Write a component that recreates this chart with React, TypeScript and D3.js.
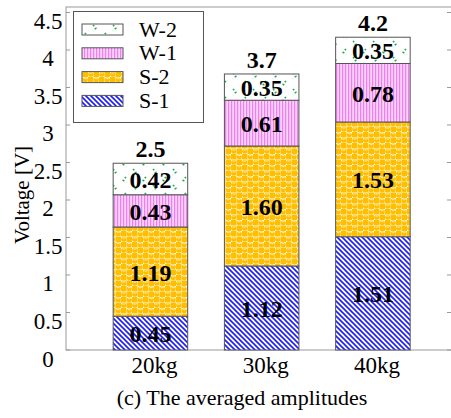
import * as d3 from "d3";
import { useEffect, useRef } from "react";

// values
const categories = ["20kg", "30kg", "40kg"];
const s1Values = [0.45, 1.12, 1.51];
const s2Values = [1.19, 1.6, 1.53];
const w1Values = [0.43, 0.61, 0.78];
const w2Values = [0.42, 0.35, 0.35];
const totalLabels = ["2.5", "3.7", "4.2"];
const seriesNames = ["S-1", "S-2", "W-1", "W-2"];
const yTicks = [0, 0.5, 1, 1.5, 2, 2.5, 3, 3.5, 4, 4.5];

const FONT = "'Liberation Serif', 'Times New Roman', serif";

export default function App() {
  const svgRef = useRef<SVGSVGElement | null>(null);

  useEffect(() => {
    if (!svgRef.current) return;
    const svg = d3.select(svgRef.current);
    svg.selectAll("*").remove();

    const width = 451;
    const height = 418;
    const left = 66;
    const right = 452;
    const top = 7;
    const bottom = 350;

    svg.attr("width", width).attr("height", height);

    // patterns
    const defs = svg.append("defs");

    const p1 = defs.append("pattern").attr("id", "pS1").attr("patternUnits", "userSpaceOnUse")
      .attr("width", 5).attr("height", 5);
    p1.append("rect").attr("width", 5).attr("height", 5).attr("fill", "#fff");
    p1.append("path").attr("d", "M-1,-1 L6,6 M-1,4 L1,6 M4,-1 L6,1")
      .attr("stroke", "#1c1cff").attr("stroke-width", 1.6);

    const p2 = defs.append("pattern").attr("id", "pS2").attr("patternUnits", "userSpaceOnUse")
      .attr("width", 11).attr("height", 11);
    p2.append("rect").attr("width", 11).attr("height", 11).attr("fill", "#ffbf00");
    p2.append("rect").attr("x", 5.5).attr("y", 0).attr("width", 5.5).attr("height", 5.5).attr("fill", "#fff");
    p2.append("rect").attr("x", 0).attr("y", 5.5).attr("width", 5.5).attr("height", 5.5).attr("fill", "#fff");
    [[8.25, 2.75], [2.75, 8.25]].forEach(([cx, cy]) => {
      p2.append("circle").attr("cx", cx).attr("cy", cy).attr("r", 2.6).attr("fill", "#ffbf00");
      p2.append("ellipse").attr("cx", cx).attr("cy", cy - 1.2).attr("rx", 1.5).attr("ry", 0.8).attr("fill", "#ffe58f");
    });

    const p3 = defs.append("pattern").attr("id", "pW1").attr("patternUnits", "userSpaceOnUse")
      .attr("width", 3).attr("height", 10);
    p3.append("rect").attr("width", 3).attr("height", 10).attr("fill", "#fbd2fb");
    p3.append("rect").attr("width", 1.2).attr("height", 10).attr("fill", "#f07ef0");

    const p4 = defs.append("pattern").attr("id", "pW2").attr("patternUnits", "userSpaceOnUse")
      .attr("width", 20).attr("height", 16);
    p4.append("rect").attr("width", 20).attr("height", 16).attr("fill", "#fff");
    p4.append("path").attr("d", "M6,1 L3,4 L6,7 M13,9 L16,12 L13,15")
      .attr("fill", "none").attr("stroke", "#1fa84f").attr("stroke-width", 1.6)
      .attr("stroke-dasharray", "1.8 2.4");

    const fills = ["url(#pS1)", "url(#pS2)", "url(#pW1)", "url(#pW2)"];

    const x = d3.scaleBand()
      .domain(categories)
      .range([left, right])
      .paddingInner(0.33)
      .paddingOuter(0.4)
      .align(0.53);

    const y = d3.scaleLinear().domain([0, 4.573]).range([bottom, top]);

    // frame
    svg.append("rect")
      .attr("x", left).attr("y", top)
      .attr("width", right - left).attr("height", bottom - top)
      .attr("fill", "none").attr("stroke", "#999").attr("stroke-width", 1);

    // ticks inside the frame, left and right
    const tickG = svg.append("g").attr("stroke", "#999").attr("stroke-width", 1);
    tickG.selectAll("line.l").data(yTicks).enter().append("line")
      .attr("x1", left).attr("x2", left + 4)
      .attr("y1", (d) => y(d)).attr("y2", (d) => y(d));
    tickG.selectAll("line.r").data(yTicks).enter().append("line")
      .attr("x1", right - 5).attr("x2", right)
      .attr("y1", (d) => y(d)).attr("y2", (d) => y(d));

    svg.append("g").selectAll("text").data(yTicks).enter().append("text")
      .attr("x", 48).attr("y", (d) => y(d) + 9)
      .attr("text-anchor", "middle").attr("dominant-baseline", "central")
      .style("font-family", FONT).style("font-size", "23px")
      .text((d) => d3.format("")(d));

    svg.append("text")
      .attr("transform", "translate(22, 195) rotate(-90)")
      .attr("text-anchor", "middle").attr("dominant-baseline", "central")
      .style("font-family", FONT).style("font-size", "21px")
      .text("Voltage [V]");

    // stacked bars
    const rows = categories.map((c, i) => ({
      cat: c, "S-1": s1Values[i], "S-2": s2Values[i], "W-1": w1Values[i], "W-2": w2Values[i],
    }));
    const stacked = d3.stack<any>().keys(seriesNames)(rows);

    stacked.forEach((layer, si) => {
      const g = svg.append("g");
      g.selectAll("rect").data(layer).enter().append("rect")
        .attr("x", (d) => x(d.data.cat)!)
        .attr("y", (d) => y(d[1]))
        .attr("width", x.bandwidth())
        .attr("height", (d) => y(d[0]) - y(d[1]))
        .attr("fill", fills[si])
        .attr("stroke", "#555").attr("stroke-width", 1);
      g.selectAll("text").data(layer).enter().append("text")
        .attr("x", (d) => x(d.data.cat)! + x.bandwidth() / 2)
        .attr("y", (d) => (y(d[0]) + y(d[1])) / 2 + 1)
        .attr("text-anchor", "middle").attr("dominant-baseline", "central")
        .style("font-family", FONT).style("font-size", "24px").style("font-weight", "bold")
        .text((d) => (d[1] - d[0]).toFixed(2));
    });

    const topLayer = stacked[stacked.length - 1];
    svg.append("g").selectAll("text").data(topLayer).enter().append("text")
      .attr("x", (d) => x(d.data.cat)! + x.bandwidth() / 2)
      .attr("y", (d) => y(d[1]) - 6)
      .attr("text-anchor", "middle")
      .style("font-family", FONT).style("font-size", "24px").style("font-weight", "bold")
      .text((d, i) => totalLabels[i]);

    // category labels
    svg.append("g").selectAll("text").data(categories).enter().append("text")
      .attr("x", (d) => x(d)! + x.bandwidth() / 2 + 4)
      .attr("y", 373)
      .attr("text-anchor", "middle")
      .style("font-family", FONT).style("font-size", "23px")
      .text((d) => d);

    svg.append("text")
      .attr("x", 242).attr("y", 405)
      .attr("text-anchor", "middle")
      .style("font-family", FONT).style("font-size", "22px")
      .text("(c) The averaged amplitudes");

    // legend
    const legend = svg.append("g");
    legend.append("rect")
      .attr("x", 73.5).attr("y", 11.5).attr("width", 130).attr("height", 111)
      .attr("fill", "#fff").attr("stroke", "#555").attr("stroke-width", 1);
    const legendOrder = [3, 2, 1, 0];
    legendOrder.forEach((si, row) => {
      const base = 36.5 + row * 23.8;
      legend.append("rect")
        .attr("x", 82).attr("y", base - 12.5).attr("width", 41).attr("height", 11)
        .attr("fill", fills[si]).attr("stroke", "#555").attr("stroke-width", 1);
      legend.append("text")
        .attr("x", 139).attr("y", base)
        .style("font-family", FONT).style("font-size", "22px")
        .text(seriesNames[si]);
    });
  }, []);

  return (
    <svg
      ref={svgRef}
      style={{ position: "absolute", left: 0, top: 0, display: "block", background: "#fff" }}
    ></svg>
  );
}
